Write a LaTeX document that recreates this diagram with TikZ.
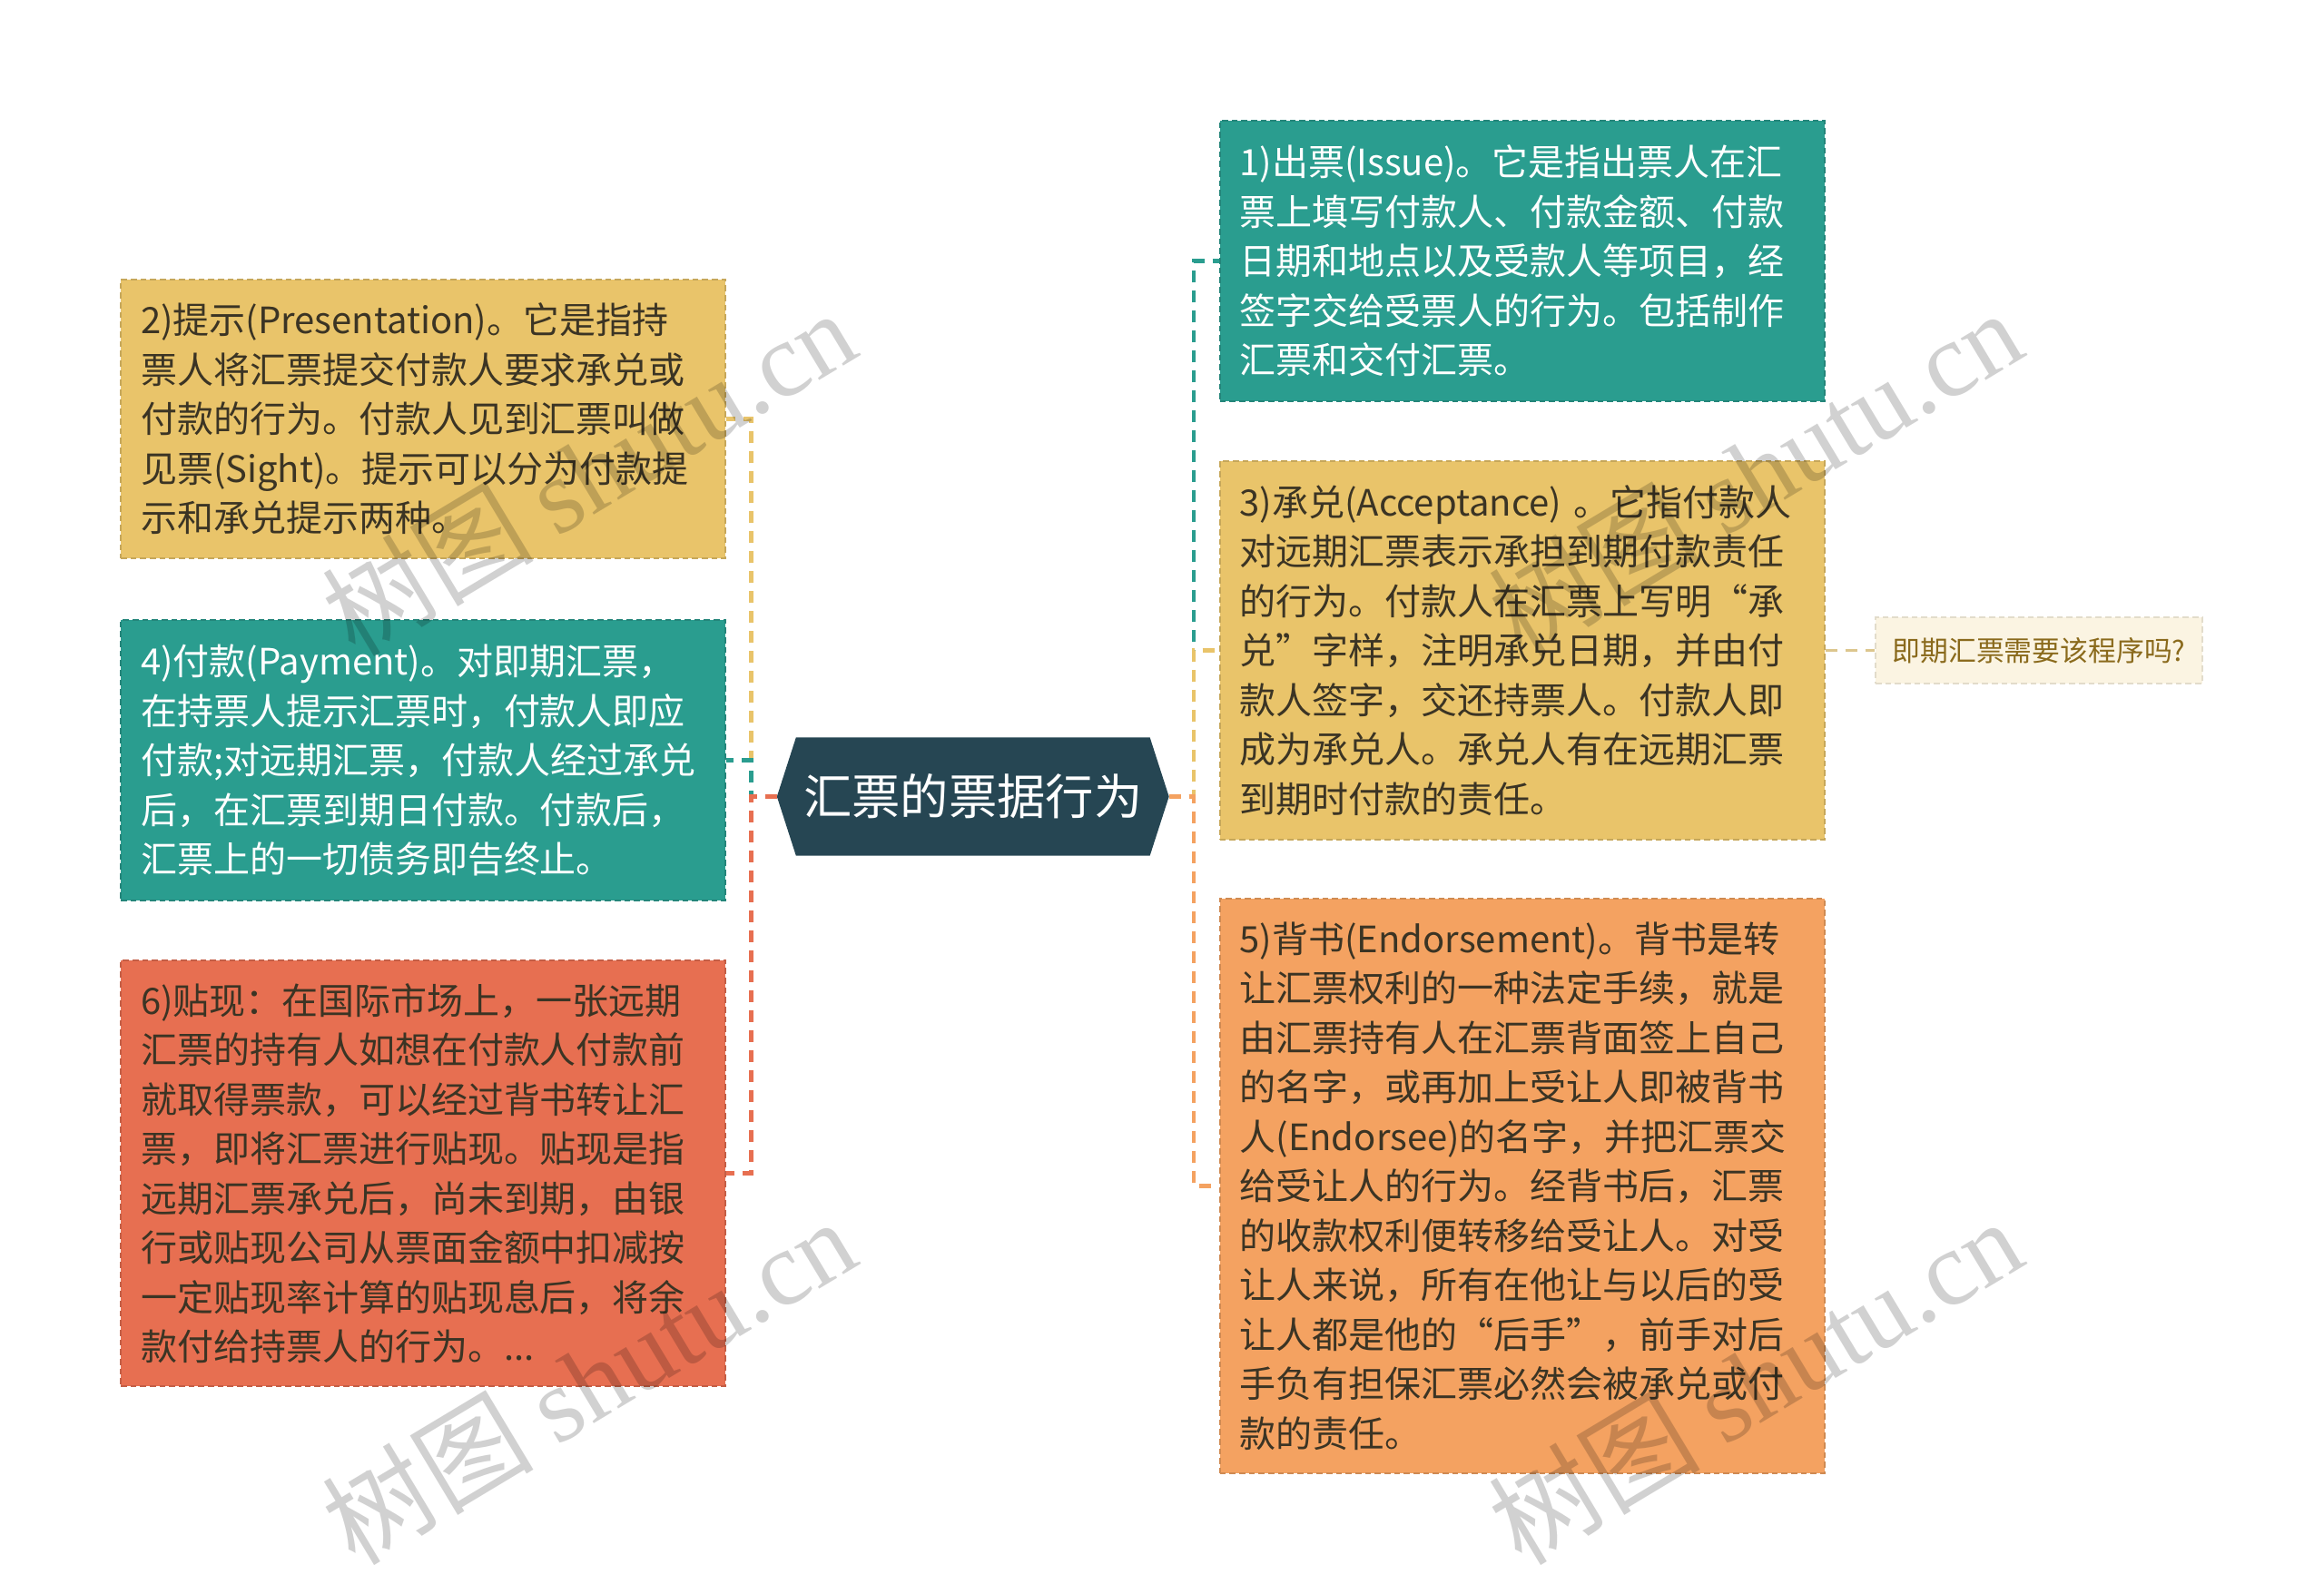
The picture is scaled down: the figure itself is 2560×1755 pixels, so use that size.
\documentclass[tikz,border=0pt]{standalone}
\usepackage{fontspec}
\setmainfont{Noto Sans CJK SC}
\newfontfamily\wmserif{Liberation Serif}
\usetikzlibrary{calc,backgrounds}

\definecolor{rootblue}{HTML}{264653}
\definecolor{tealbox}{HTML}{2A9D8F}
\definecolor{yelbox}{HTML}{E9C46A}
\definecolor{orgbox}{HTML}{F4A261}
\definecolor{redbox}{HTML}{E76F51}
\definecolor{inkdark}{HTML}{3B3424}
\definecolor{notefill}{HTML}{FBF4E2}
\definecolor{noteink}{HTML}{8A6A1C}
\definecolor{notelink}{HTML}{DCC68E}

\tikzset{
  card/.style={fill=#1, draw=#1!85!black, line width=0.6pt, dash pattern=on 2pt off 1.2pt,
    minimum width=199.8pt, text width=186.6pt, inner xsep=6.6pt, inner ysep=0pt,
    align=left, font=\fontsize{12}{16.35}\selectfont},
  link/.style={draw=#1, line width=1.3pt, dash pattern=on 4pt off 2.6pt},
  notebox/.style={fill=notefill, draw=notefill!90!black, line width=0.5pt, dash pattern=on 2pt off 1.2pt,
    text=noteink, font=\fontsize{9.25}{11}\selectfont, minimum width=108pt, minimum height=21.9pt, inner sep=0pt},
  wmark/.style={text=black, opacity=0.18, rotate=31, font=\fontsize{35}{35}\selectfont}
}

\begin{document}
\begin{tikzpicture}[x=0.3pt, y=-0.3pt]
\useasboundingbox (0,0) rectangle (2560,1755);

% tema central
\node[text=white, font=\fontsize{16}{16}\selectfont, minimum width=129.15pt,
  minimum height=38.7pt, inner sep=0pt] (root) at (1071.75,877.5) {汇票的票据行为};
\begin{scope}[on background layer]
\fill[rootblue] (root.west) -- ($(root.north west)+(21,0)$) -- ($(root.north east)+(-21,0)$)
  -- (root.east) -- ($(root.south east)+(-21,0)$) -- ($(root.south west)+(21,0)$) -- cycle;
\end{scope}

% lado izquierdo
\node[card=yelbox, text=inkdark, minimum height=92.1pt] (b2) at (466,461.5)
  {2)提示(Presentation)。它是指持\\票人将汇票提交付款人要求承兑或\\付款的行为。付款人见到汇票叫做\\见票(Sight)。提示可以分为付款提\\示和承兑提示两种。};
\node[card=tealbox, text=white, minimum height=92.7pt] (b4) at (466,837.5)
  {4)付款(Payment)。对即期汇票，\\在持票人提示汇票时，付款人即应\\付款;对远期汇票，付款人经过承兑\\后，在汇票到期日付款。付款后，\\汇票上的一切债务即告终止。};
\node[card=redbox, text=inkdark, minimum height=140.7pt] (b6) at (466,1292.5)
  {6)贴现：在国际市场上，一张远期\\汇票的持有人如想在付款人付款前\\就取得票款，可以经过背书转让汇\\票，即将汇票进行贴现。贴现是指\\远期汇票承兑后，尚未到期，由银\\行或贴现公司从票面金额中扣减按\\一定贴现率计算的贴现息后，将余\\款付给持票人的行为。...};

% lado derecho
\node[card=tealbox, text=white, minimum height=92.7pt] (b1) at (1676.5,287.5)
  {1)出票(Issue)。它是指出票人在汇\\票上填写付款人、付款金额、付款\\日期和地点以及受款人等项目，经\\签字交给受票人的行为。包括制作\\汇票和交付汇票。};
\node[card=yelbox, text=inkdark, minimum height=125.1pt] (b3) at (1676.5,716.5)
  {3)承兑(Acceptance) 。它指付款人\\对远期汇票表示承担到期付款责任\\的行为。付款人在汇票上写明“承\\兑”字样，注明承兑日期，并由付\\款人签字，交还持票人。付款人即\\成为承兑人。承兑人有在远期汇票\\到期时付款的责任。};
\node[card=orgbox, text=inkdark, minimum height=189.9pt] (b5) at (1676.5,1306.5)
  {5)背书(Endorsement)。背书是转\\让汇票权利的一种法定手续，就是\\由汇票持有人在汇票背面签上自己\\的名字，或再加上受让人即被背书\\人(Endorsee)的名字，并把汇票交\\给受让人的行为。经背书后，汇票\\的收款权利便转移给受让人。对受\\让人来说，所有在他让与以后的受\\让人都是他的“后手”，前手对后\\手负有担保汇票必然会被承兑或付\\款的责任。};

% nota
\node[notebox] (q3) at (2246,716.5) {即期汇票需要该程序吗?};

% conectores
\draw[link=yelbox] (root.west) -- ++(-28.5,0) |- (b2.east);
\draw[link=tealbox] (root.west) -- ++(-28.5,0) |- (b4.east);
\draw[link=redbox] (root.west) -- ++(-28.5,0) |- (b6.east);
\draw[link=tealbox] (root.east) -- ++(27.6,0) |- (b1.west);
\draw[link=yelbox] (root.east) -- ++(27.6,0) |- (b3.west);
\draw[link=orgbox] (root.east) -- ++(27.6,0) |- (b5.west);
\draw[link=notelink, line width=0.8pt] (b3.east) -- (q3.west);

% marcas de agua
\node[wmark] (wm1) at (648,520) {树图 {\wmserif shutu.cn}};
\node[wmark] (wm2) at (1933,520) {树图 {\wmserif shutu.cn}};
\node[wmark] (wm3) at (648,1521) {树图 {\wmserif shutu.cn}};
\node[wmark] (wm4) at (1933,1521) {树图 {\wmserif shutu.cn}};
\end{tikzpicture}
\end{document}
